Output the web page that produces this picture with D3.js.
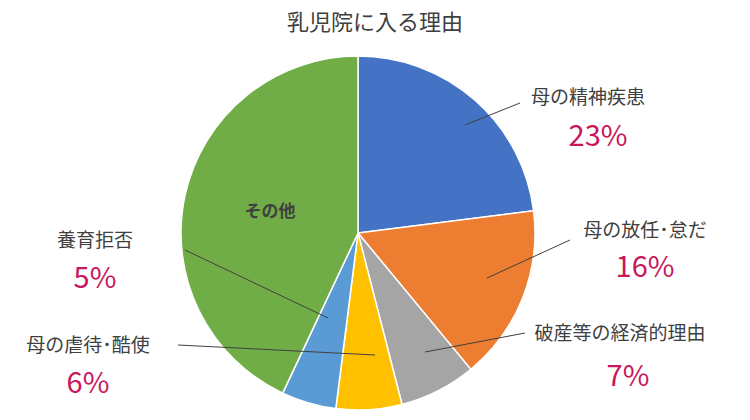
<!DOCTYPE html>
<html><head><meta charset="utf-8">
<script src="https://cdn.jsdelivr.net/npm/d3@7"></script>
<style>body{margin:0;background:#fff}</style></head>
<body><svg id="c" width="750" height="420"></svg>
<script>
const categories=["母の精神疾患","母の放任･怠だ","破産等の経済的理由","母の虐待･酷使","養育拒否","その他"];
const values=[23,16,7,6,5,43];
const colors=["#4472C4","#ED7D31","#A5A5A5","#FFC000","#5B9BD5","#70AD47"];
const labelPos=[[588,97,598,135,520,103,465,125],[645,230,645,266,570,240,487,278],[620,333,628,375,525,333,425,352],[88,345,88,382,178,345,375,355],[95,240,95,277,185,250,328,318]];
const svg=d3.select("#c");
const font="'Noto Sans CJK JP',sans-serif";
svg.append("text").attr("x",375).attr("y",30).attr("text-anchor","middle").attr("font-family",font).attr("font-size",22).attr("fill","#404040").text("乳児院に入る理由");
const cx=358,cy=233,r=177;
const pie=d3.pie().sort(null).value(d=>d);
const arc=d3.arc().innerRadius(0).outerRadius(r);
const g=svg.append("g").attr("transform",`translate(${cx},${cy})`);
const arcs=pie(values);
g.selectAll("path").data(arcs).join("path").attr("d",arc).attr("fill",(d,i)=>colors[i]).attr("stroke","#fff").attr("stroke-width",1.5);
labelPos.forEach((p,i)=>{
  svg.append("line").attr("x1",p[4]).attr("y1",p[5]).attr("x2",p[6]).attr("y2",p[7]).attr("stroke","#404040").attr("stroke-width",1);
  svg.append("text").attr("x",p[0]).attr("y",p[1]+7).attr("text-anchor","middle").attr("font-family",font).attr("font-size",19).attr("fill","#404040").text(categories[i]);
  svg.append("text").attr("x",p[2]).attr("y",p[3]+11).attr("text-anchor","middle").attr("font-family",font).attr("font-size",29).attr("fill","#C8175D").text(values[i]+"%");
});
svg.append("text").attr("x",270).attr("y",217).attr("text-anchor","middle").attr("font-family",font).attr("font-size",17).attr("font-weight","bold").attr("fill","#404040").text(categories[5]);
</script></body></html>
